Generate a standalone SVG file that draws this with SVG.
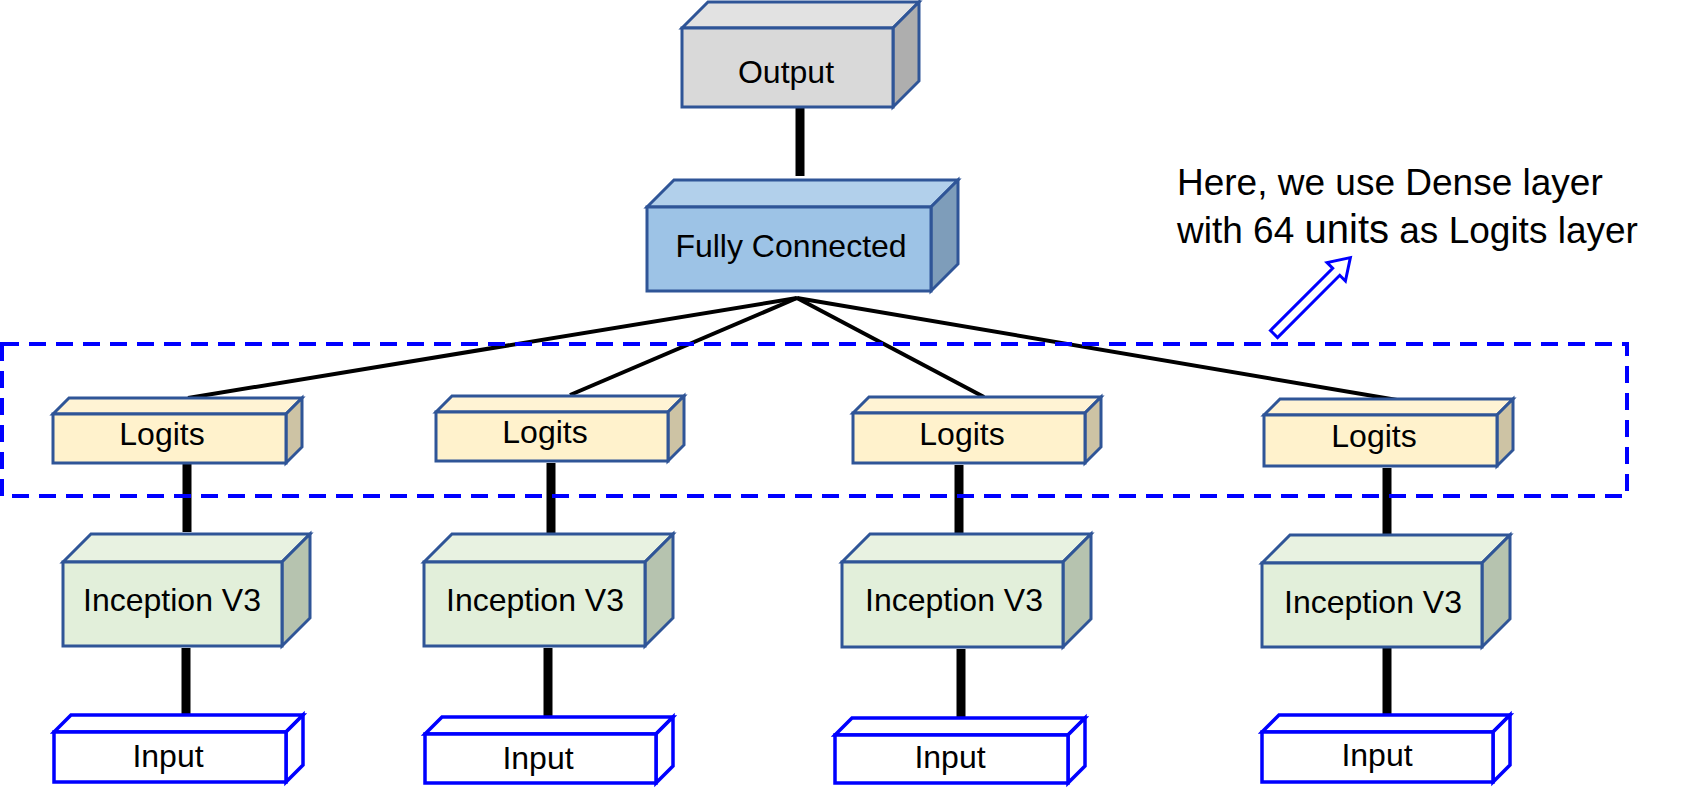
<svg xmlns="http://www.w3.org/2000/svg" width="1684" height="798" viewBox="0 0 1684 798">
<style>
  .t { font-family: "Liberation Sans", Arial, sans-serif; font-size: 32px; fill: #000; text-anchor: middle; }
  .a { font-family: "Liberation Sans", Arial, sans-serif; font-size: 37px; fill: #000; }
  .box path { stroke: #2F5597; stroke-width: 3; stroke-linejoin: miter; }
  .inp path { stroke: #0000FF; stroke-width: 3.5; fill: #FFFFFF; }
  .vc { stroke: #000; stroke-width: 9; fill: none; }
  .dc { stroke: #000; stroke-width: 4; fill: none; }
  .out .f { fill: #D9D9D9; } .out .tp { fill: #E2E2E2; } .out .s { fill: #AEAEAE; }
  .fc .f { fill: #9DC3E6; } .fc .tp { fill: #B2D0EB; } .fc .s { fill: #7E9DBA; }
  .lg .f { fill: #FFF2CC; } .lg .tp { fill: #FFF3D4; } .lg .s { fill: #CDC3A4; }
  .iv .f { fill: #E2EFDA; } .iv .tp { fill: #E8F2E1; } .iv .s { fill: #B6C3AF; }
</style>
<rect width="1684" height="798" fill="#FFFFFF"/>
<g id="connectors">
  <line class="vc" x1="800" y1="108" x2="800" y2="176"/>
  <line class="dc" x1="797" y1="298" x2="188" y2="398"/>
  <line class="dc" x1="797" y1="298" x2="570" y2="395"/>
  <line class="dc" x1="797" y1="298" x2="984" y2="397"/>
  <line class="dc" x1="797" y1="298" x2="1397" y2="400"/>
  <line class="vc" x1="187" y1="464" x2="187" y2="532"/>
  <line class="vc" x1="186" y1="648" x2="186" y2="716"/>
  <line class="vc" x1="551" y1="463" x2="551" y2="533"/>
  <line class="vc" x1="548" y1="648" x2="548" y2="717"/>
  <line class="vc" x1="959" y1="465" x2="959" y2="534"/>
  <line class="vc" x1="961" y1="649" x2="961" y2="718"/>
  <line class="vc" x1="1387" y1="468" x2="1387" y2="534"/>
  <line class="vc" x1="1387" y1="648" x2="1387" y2="714"/>
</g>
<g id="output" class="box out">
  <path class="tp" d="M682,28 L708,2 L919,2 L893,28 Z"/>
  <path class="s" d="M893,28 L919,2 L919,81 L893,107 Z"/>
  <path class="f" d="M682,28 H893 V107 H682 Z"/>
  <text class="t" x="786" y="83">Output</text>
</g>
<g id="fully-connected" class="box fc">
  <path class="tp" d="M647,207 L674,180 L958,180 L931,207 Z"/>
  <path class="s" d="M931,207 L958,180 L958,264 L931,291 Z"/>
  <path class="f" d="M647,207 H931 V291 H647 Z"/>
  <text class="t" x="791" y="257">Fully Connected</text>
</g>
<g id="logits1" class="box lg">
  <path class="tp" d="M53,414 L69,398 L302,398 L286,414 Z"/>
  <path class="s" d="M286,414 L302,398 L302,447 L286,463 Z"/>
  <path class="f" d="M53,414 H286 V463 H53 Z"/>
  <text class="t" x="162" y="445">Logits</text>
</g>
<g id="logits2" class="box lg">
  <path class="tp" d="M436,412 L452,396 L684,396 L668,412 Z"/>
  <path class="s" d="M668,412 L684,396 L684,445 L668,461 Z"/>
  <path class="f" d="M436,412 H668 V461 H436 Z"/>
  <text class="t" x="545" y="443">Logits</text>
</g>
<g id="logits3" class="box lg">
  <path class="tp" d="M853,413 L869,397 L1101,397 L1085,413 Z"/>
  <path class="s" d="M1085,413 L1101,397 L1101,447 L1085,463 Z"/>
  <path class="f" d="M853,413 H1085 V463 H853 Z"/>
  <text class="t" x="962" y="445">Logits</text>
</g>
<g id="logits4" class="box lg">
  <path class="tp" d="M1264,415 L1280,399 L1513,399 L1497,415 Z"/>
  <path class="s" d="M1497,415 L1513,399 L1513,450 L1497,466 Z"/>
  <path class="f" d="M1264,415 H1497 V466 H1264 Z"/>
  <text class="t" x="1374" y="447">Logits</text>
</g>
<g id="inception1" class="box iv">
  <path class="tp" d="M63,562 L91,534 L310,534 L282,562 Z"/>
  <path class="s" d="M282,562 L310,534 L310,618 L282,646 Z"/>
  <path class="f" d="M63,562 H282 V646 H63 Z"/>
  <text class="t" x="172" y="611">Inception V3</text>
</g>
<g id="inception2" class="box iv">
  <path class="tp" d="M424,562 L452,534 L673,534 L645,562 Z"/>
  <path class="s" d="M645,562 L673,534 L673,618 L645,646 Z"/>
  <path class="f" d="M424,562 H645 V646 H424 Z"/>
  <text class="t" x="535" y="611">Inception V3</text>
</g>
<g id="inception3" class="box iv">
  <path class="tp" d="M842,562 L870,534 L1091,534 L1063,562 Z"/>
  <path class="s" d="M1063,562 L1091,534 L1091,619 L1063,647 Z"/>
  <path class="f" d="M842,562 H1063 V647 H842 Z"/>
  <text class="t" x="954" y="611">Inception V3</text>
</g>
<g id="inception4" class="box iv">
  <path class="tp" d="M1262,563 L1290,535 L1510,535 L1482,563 Z"/>
  <path class="s" d="M1482,563 L1510,535 L1510,619 L1482,647 Z"/>
  <path class="f" d="M1262,563 H1482 V647 H1262 Z"/>
  <text class="t" x="1373" y="613">Inception V3</text>
</g>
<g id="input1" class="inp">
  <path d="M54,732 L71,715 L303,715 L286,732 Z"/>
  <path d="M286,732 L303,715 L303,765 L286,782 Z"/>
  <path d="M54,732 H286 V782 H54 Z"/>
  <text class="t" x="168" y="767">Input</text>
</g>
<g id="input2" class="inp">
  <path d="M425,734 L442,717 L673,717 L656,734 Z"/>
  <path d="M656,734 L673,717 L673,766 L656,783 Z"/>
  <path d="M425,734 H656 V783 H425 Z"/>
  <text class="t" x="538" y="769">Input</text>
</g>
<g id="input3" class="inp">
  <path d="M835,735 L852,718 L1085,718 L1068,735 Z"/>
  <path d="M1068,735 L1085,718 L1085,766 L1068,783 Z"/>
  <path d="M835,735 H1068 V783 H835 Z"/>
  <text class="t" x="950" y="768">Input</text>
</g>
<g id="input4" class="inp">
  <path d="M1262,732 L1279,715 L1510,715 L1493,732 Z"/>
  <path d="M1493,732 L1510,715 L1510,765 L1493,782 Z"/>
  <path d="M1262,732 H1493 V782 H1262 Z"/>
  <text class="t" x="1377" y="766">Input</text>
</g>
<g id="logits-group">
  <rect x="2" y="344" width="1625" height="152" fill="none" stroke="#0000FF" stroke-width="4" stroke-dasharray="17 10"/>
</g>
<g id="annotation">
  <text class="a" x="1177" y="195">Here, we use Dense layer</text>
  <text class="a" x="1177" y="243">with 64 <tspan style="font-size:40px">units</tspan> as Logits layer</text>
  <polygon points="0,-5 88,-5 88,-13 108,0 88,13 88,5 0,5" transform="translate(1274,334) rotate(-45)" fill="#FFFFFF" stroke="#0000FF" stroke-width="3"/>
</g>
</svg>
